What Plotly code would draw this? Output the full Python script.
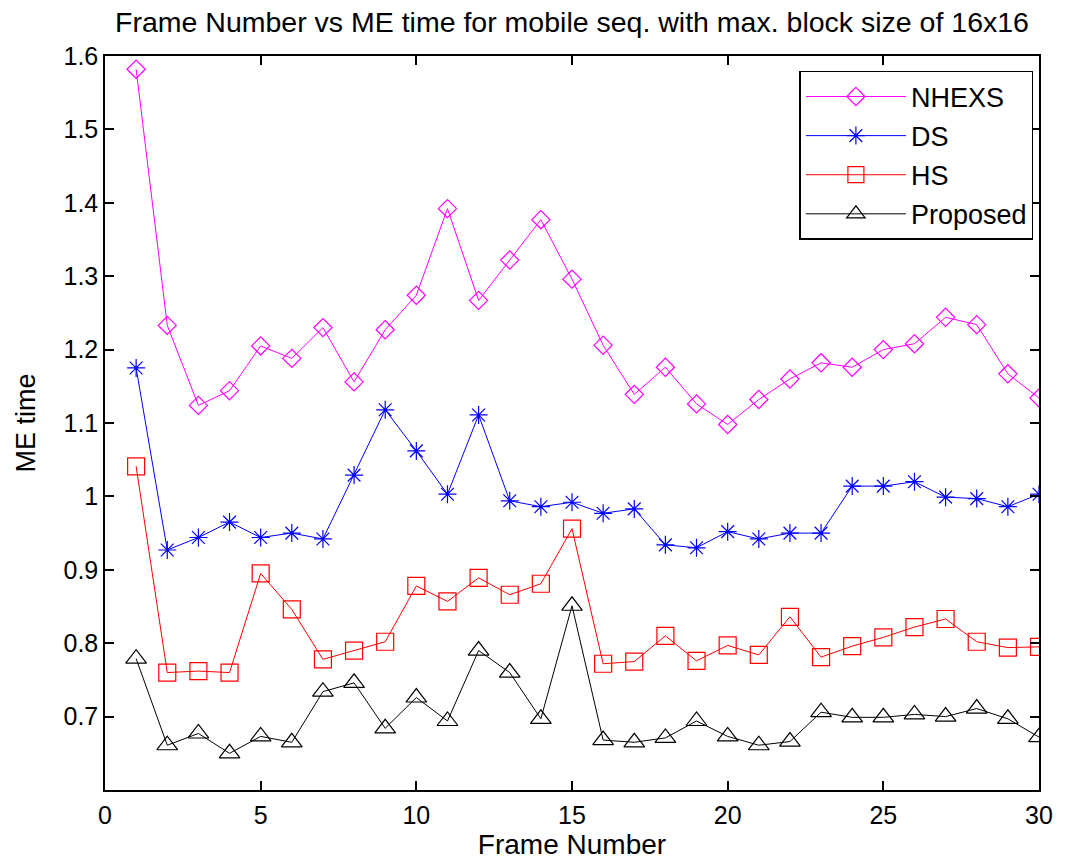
import plotly.graph_objects as go

# Frame numbers and motion-estimation time per search method
frames = list(range(1, 31))

nhexs = [1.582, 1.233, 1.124, 1.144, 1.205, 1.188, 1.230, 1.156, 1.227, 1.274,
         1.392, 1.267, 1.322, 1.377, 1.296, 1.206, 1.139, 1.176, 1.126, 1.098,
         1.132, 1.160, 1.182, 1.176, 1.200, 1.208, 1.244, 1.234, 1.167, 1.134]

ds = [1.175, 0.927, 0.944, 0.965, 0.944, 0.950, 0.942, 1.029, 1.118, 1.062,
      1.003, 1.111, 0.994, 0.986, 0.992, 0.977, 0.983, 0.934, 0.930, 0.952,
      0.942, 0.950, 0.950, 1.014, 1.014, 1.020, 0.999, 0.997, 0.986, 1.003]

hs = [1.041, 0.760, 0.762, 0.760, 0.895, 0.846, 0.778, 0.790, 0.802, 0.878,
      0.857, 0.889, 0.866, 0.881, 0.956, 0.772, 0.775, 0.810, 0.776, 0.797,
      0.784, 0.836, 0.781, 0.796, 0.808, 0.822, 0.833, 0.802, 0.794, 0.795]

proposed = [0.779, 0.661, 0.677, 0.650, 0.673, 0.665, 0.734, 0.746, 0.684, 0.726,
            0.694, 0.790, 0.760, 0.697, 0.851, 0.668, 0.665, 0.671, 0.694, 0.673,
            0.661, 0.666, 0.706, 0.699, 0.699, 0.703, 0.700, 0.711, 0.697, 0.672]

y_ticks = [0.7, 0.8, 0.9, 1.0, 1.1, 1.2, 1.3, 1.4, 1.5, 1.6]
y_tick_text = ["0.7", "0.8", "0.9", "1", "1.1", "1.2", "1.3", "1.4", "1.5", "1.6"]
x_ticks = [0, 5, 10, 15, 20, 25, 30]

FONT = "Liberation Sans, Arial, sans-serif"

series = [
    ("NHEXS", nhexs, "#ff00ff", "diamond-open", 14),
    ("DS", ds, "#0000ff", "asterisk-open", 15),
    ("HS", hs, "#ff0000", "square-open", 17),
    ("Proposed", proposed, "#000000", "triangle-up-open", 18),
]

fig = go.Figure()
for name, vals, color, symbol, size in series:
    fig.add_trace(go.Scatter(
        x=frames, y=vals, name=name, mode="lines+markers", legendgroup=name,
        line=dict(color=color, width=1),
        marker=dict(symbol=symbol, size=size, color=color,
                    line=dict(color=color, width=1.2)),
    ))

axis_common = dict(
    showline=True, linecolor="black", linewidth=1.5, mirror="ticks",
    ticks="inside", ticklen=9, tickwidth=1.5, tickcolor="black",
    showgrid=False, zeroline=False,
    tickfont=dict(family=FONT, size=25, color="black"),
)

fig.update_layout(
    width=1065, height=867,
    margin=dict(l=105, r=19, t=56, b=75),
    paper_bgcolor="white", plot_bgcolor="white",
    title=dict(text="Frame Number vs ME time for mobile seq. with max. block size of 16x16",
               xref="paper", x=0.5, xanchor="center", y=0.975, yanchor="middle",
               font=dict(family=FONT, size=28.5, color="black")),
    xaxis=dict(range=[0, 30], tickvals=x_ticks, ticklabelstandoff=2,
               title=dict(text="Frame Number", standoff=7,
                          font=dict(family=FONT, size=28, color="black")),
               **axis_common),
    yaxis=dict(range=[0.6, 1.6], tickvals=y_ticks, ticktext=y_tick_text,
               ticklabelstandoff=0,
               title=dict(text="ME time", standoff=20,
                          font=dict(family=FONT, size=27, color="black")),
               **axis_common),
    legend=dict(x=0.994, xanchor="right", y=0.9796, yanchor="top",
                bgcolor="white", bordercolor="black", borderwidth=1.5,
                font=dict(family=FONT, size=27, color="black"),
                itemwidth=100, tracegroupgap=1, traceorder="grouped"),
    showlegend=True,
)

fig.write_html("out.html")
